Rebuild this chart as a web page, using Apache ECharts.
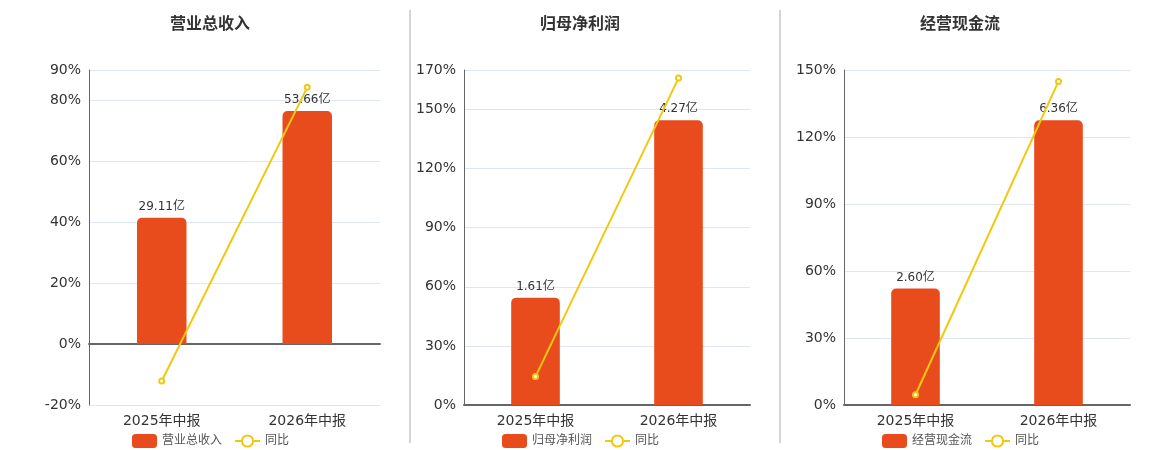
<!DOCTYPE html>
<html>
<head>
<meta charset="utf-8">
<script src="https://cdn.jsdelivr.net/npm/echarts@6/dist/echarts.min.js"></script>
<style>
  html, body { margin: 0; padding: 0; background: #fff; }
  #main { width: 1160px; height: 450px; }
</style>
</head>
<body>
<div id="main"></div>
<script>
// 三个小图的数据
var categories = ['2025年中报', '2026年中报'];
var titles = ['营业总收入', '归母净利润', '经营现金流'];
var barValues = [
  [29.11, 53.66],
  [1.61, 4.27],
  [2.60, 6.36]
];
var yoyValues = [
  [-12.1, 84.3],
  [14.4, 165.9],
  [4.6, 144.9]
];
var pctMin = [-20, 0, 0];
var pctMax = [90, 170, 150];
var pctStep = [20, 30, 30];

var font = '"DejaVu Sans", "Noto Sans CJK SC", sans-serif';
var barColor = '#e84c1c';
var lineColor = '#f2c80f';

var panels = [
  { left: 89, width: 291, center: 205 },
  { left: 464, width: 286, center: 575 },
  { left: 844, width: 286, center: 955 }
];

var option = {
  textStyle: { fontFamily: font },
  title: [], legend: [], grid: [], xAxis: [], yAxis: [], series: [],
  graphic: [410, 780].map(function (x) {
    return {
      type: 'line',
      shape: { x1: x, y1: 10, x2: x, y2: 443 },
      style: { stroke: '#aaa', lineWidth: 1 }
    };
  })
};

panels.forEach(function (p, i) {
  option.title.push({
    text: titles[i],
    left: p.center, top: 12, textAlign: 'center',
    textStyle: { fontSize: 16, fontWeight: 'bold', color: '#333', fontFamily: font }
  });
  option.legend.push({
    data: [titles[i], '同比'],
    left: p.center - 78, top: 429,
    itemWidth: 25, itemHeight: 14, itemGap: 12,
    textStyle: { fontSize: 12, color: '#555', fontFamily: font },
    seriesIndex: [i * 2, i * 2 + 1]
  });
  option.grid.push({ left: p.left, width: p.width, top: 70, bottom: 45 });
  option.xAxis.push({
    type: 'category', gridIndex: i, data: categories,
    axisLine: { lineStyle: { color: '#666', width: 2 } },
    axisTick: { lineStyle: { color: '#666' } },
    axisLabel: { fontSize: 14, color: '#333', margin: 9, fontFamily: font }
  });
  option.yAxis.push({
    type: 'value', gridIndex: i,
    min: pctMin[i], max: pctMax[i], interval: pctStep[i],
    axisLine: { show: true, lineStyle: { color: '#666' } },
    axisTick: { show: false },
    axisLabel: {
      fontSize: 14, color: '#333', formatter: '{value}%', fontFamily: font,
      padding: [4, 0, 0, 0]
    },
    splitLine: { lineStyle: { color: '#e0e6f1' } }
  });
  var bMax = Math.max.apply(null, barValues[i]) / 0.85;
  option.yAxis.push({
    type: 'value', gridIndex: i, show: false,
    min: bMax * pctMin[i] / pctMax[i], max: bMax,
    splitLine: { show: false }
  });
  option.series.push({
    name: titles[i], type: 'bar',
    xAxisIndex: i, yAxisIndex: i * 2 + 1,
    data: barValues[i], barWidth: '34%',
    itemStyle: { color: barColor, borderRadius: [5, 5, 0, 0] },
    label: {
      show: true, position: 'top', fontSize: 12, color: '#333', fontFamily: font,
      formatter: function (d) { return d.value.toFixed(2) + '亿'; }
    }
  });
  option.series.push({
    name: '同比', type: 'line',
    xAxisIndex: i, yAxisIndex: i * 2,
    data: yoyValues[i],
    symbol: 'emptyCircle', symbolSize: 5,
    lineStyle: { color: lineColor, width: 2 },
    itemStyle: { color: lineColor }
  });
});

var chart = echarts.init(document.getElementById('main'));
chart.setOption(option);
</script>
</body>
</html>
